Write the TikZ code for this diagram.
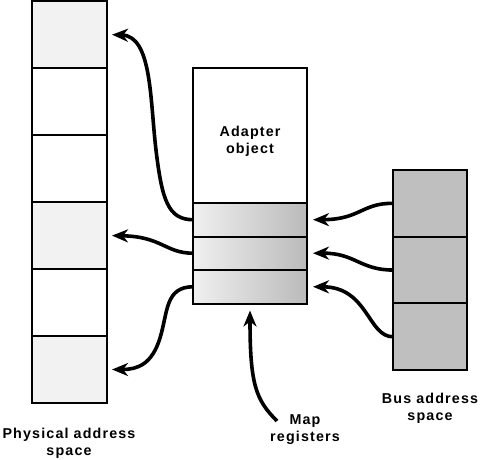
\documentclass[tikz,border=0pt]{standalone}
\usepackage{fontspec}
\setmainfont{Liberation Sans}[LetterSpace=8]
\usetikzlibrary{arrows.meta,calc}
\begin{document}
\begin{tikzpicture}[x=1pt,y=-1pt,
  cell/.style={draw=black,line width=2pt,inner sep=0pt,outer sep=0pt,anchor=north west,minimum width=75pt,minimum height=67pt},
  pw/.style={cell,fill=white},
  pg/.style={cell,fill=black!5},
  reg/.style={draw=black,line width=2pt,inner sep=0pt,outer sep=0pt,anchor=north west,minimum width=114pt,minimum height=33.5pt,left color=black!6,right color=black!27},
  bus/.style={cell,fill=black!25,minimum width=74pt,minimum height=66.7pt},
  lbl/.style={font=\bfseries\fontsize{14.3}{17}\selectfont,align=center,inner sep=0pt},
  conn/.style={line width=3.6pt,-{Stealth[length=16pt,width=13pt,inset=5pt]}}]
\useasboundingbox (0,0) rectangle (482,460);
% physical address space
\node[pg] (p1) at (32,1) {};
\node[pw] (p2) at (32,68) {};
\node[pw] (p3) at (32,135) {};
\node[pg] (p4) at (32,202) {};
\node[pw] (p5) at (32,269) {};
\node[pg] (p6) at (32,336) {};
% adapter object
\node[draw=black,line width=2pt,inner sep=0pt,outer sep=0pt,anchor=north west,minimum width=114pt,minimum height=135pt,fill=white] (a) at (193,68) {};
\node[reg] (r1) at (193,203) {};
\node[reg] (r2) at (193,236.5) {};
\node[reg] (r3) at (193,270) {};
% bus address space
\node[bus] (b1) at (393,170) {};
\node[bus] (b2) at (393,236.7) {};
\node[bus] (b3) at (393,303.4) {};
% labels
\node[lbl] (at) at (250,141) {Adapter\\object};
\node[lbl] (pl) at (69,443) {Physical address\\space};
\node[lbl] (ml) at (305,430) {Map\\registers};
\node[lbl] (bl) at (430,408) {Bus address\\space};
\coordinate (ms) at (277,421);
% arrows to physical space
\draw[conn,shorten >=5pt] (r1.west) .. controls (168,219.5) and (162,200) .. (156,150) .. controls (150,100) and (152,36) .. (p1.east);
\draw[conn,shorten >=5pt] (r2.west) .. controls (165,253) and (162,236.5) .. (p4.east);
\draw[conn,shorten >=5pt] (r3.west) .. controls (165,287) and (168,312) .. (160,338) .. controls (152,364) and (138,369.5) .. (p6.east);
% arrows from bus space
\draw[conn,shorten >=6pt] (b1.west) .. controls (362,203) and (360,219.5) .. (r1.east);
\draw[conn,shorten >=6pt] (b2.west) .. controls (360,270) and (355,253) .. (r2.east);
\draw[conn,shorten >=6pt] (b3.west) .. controls (368,337) and (368,287) .. (r3.east);
% map registers pointer
\draw[conn,shorten >=7pt] (ms) .. controls (256,400) and (250,385) .. (r3.south);
\end{tikzpicture}
\end{document}
